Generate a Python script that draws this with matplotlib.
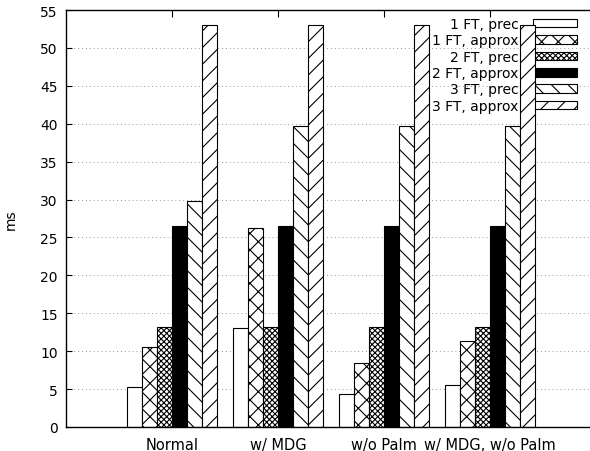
import numpy as np
import matplotlib.pyplot as plt

# categories and series (ms)
categories = ["Normal", "w/ MDG", "w/o Palm", "w/ MDG, w/o Palm"]
series_names = ["1 FT, prec", "1 FT, approx", "2 FT, prec",
                "2 FT, approx", "3 FT, prec", "3 FT, approx"]
ft1_prec = [5.3, 13.0, 4.4, 5.6]
ft1_approx = [10.6, 26.2, 8.5, 11.3]
ft2_prec = [13.2, 13.2, 13.2, 13.2]
ft2_approx = [26.5, 26.5, 26.5, 26.5]
ft3_prec = [29.8, 39.7, 39.7, 39.7]
ft3_approx = [53.0, 53.0, 53.0, 53.0]
series = [ft1_prec, ft1_approx, ft2_prec, ft2_approx, ft3_prec, ft3_approx]

# gnuplot-like fill styles
fills = ["white", "white", "white", "black", "white", "white"]
hatches = [None, "xx", "xxxxxx", None, "\\\\", "//"]

plt.rcParams['font.family'] = ['DejaVu Sans']
plt.rcParams['hatch.linewidth'] = 0.8

fig = plt.figure(figsize=(5.9, 4.52), dpi=100)
ax = fig.add_axes([66 / 590, 24 / 452, 530 / 590, 417 / 452])

x = np.arange(len(categories))
nser = len(series)
w = 1.0 / (nser + 1)
for j, vals in enumerate(series):
    ax.bar(x + (j - (nser - 1) / 2) * w, vals, width=w, color=fills[j],
           hatch=hatches[j], edgecolor="black", linewidth=0.8,
           label=series_names[j], zorder=2)

ax.set_xlim(-1, 4)
ax.set_ylim(0, 55)
ax.set_yticks(np.arange(0, 56, 5))
ax.set_xticks(x)
ax.set_xticklabels(categories)
ax.tick_params(axis="y", direction="in", length=4, width=0.8, labelsize=10,
               pad=6)
ax.tick_params(axis="x", direction="in", length=5, width=0.8, labelsize=10.5,
               pad=7, bottom=False, top=True)
ax.yaxis.grid(True, linestyle=(0, (1, 3)), color="#999999", linewidth=0.7,
              zorder=0)
ax.set_axisbelow(True)
for s in ax.spines.values():
    s.set_linewidth(1.0)

ax.set_ylabel("ms", fontsize=10)
ax.yaxis.set_label_coords((18 - 66) / 530, 0.5)

leg = ax.legend(loc="upper right", bbox_to_anchor=(577 / 590, 1 - 18 / 452),
                bbox_transform=fig.transFigure, frameon=False,
                markerfirst=False, fontsize=10, handlelength=3.15,
                handleheight=0.58, handletextpad=1.05, labelspacing=0.17,
                borderpad=0, borderaxespad=0)
leg.set_zorder(1.5)

fig.savefig("out.png", dpi=100)
